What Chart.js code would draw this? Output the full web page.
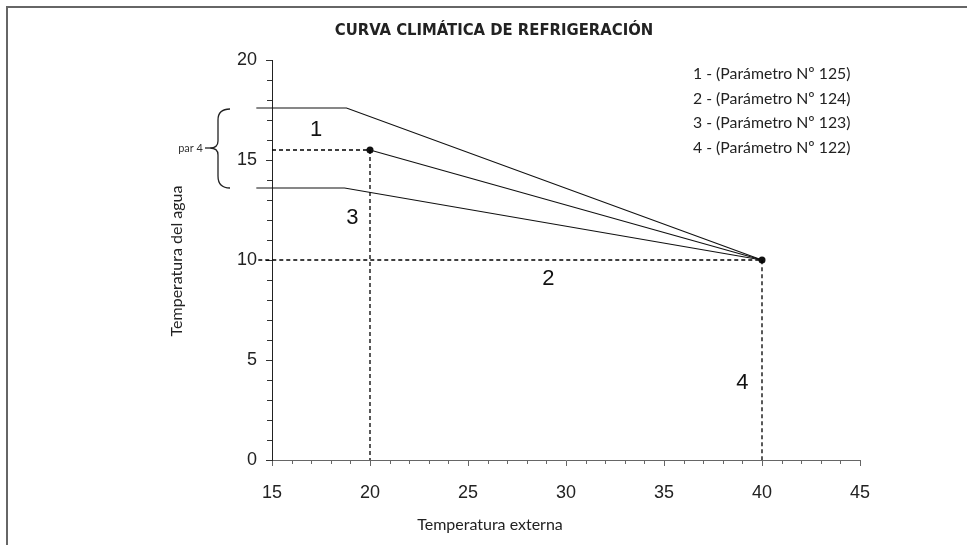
<!DOCTYPE html>
<html>
<head>
<meta charset="utf-8">
<script src="https://cdn.jsdelivr.net/npm/chart.js@4/dist/chart.umd.min.js"></script>
<style>
  html, body { margin: 0; padding: 0; background: #fff; }
  #wrap { width: 967px; height: 545px; position: relative; }
</style>
</head>
<body>
<div id="wrap"><canvas id="chart" width="967" height="545"></canvas></div>
<script>
// Axis ranges and labelled ticks
const xMin = 15, xMax = 45, xStep = 5;
const yMin = 0, yMax = 20, yStep = 5;

// Curve 1 (upper limit)
const curve1X = [14.2, 18.8, 40];
const curve1Y = [17.6, 17.6, 10];
// Curve through the set point (20, 15.5)
const curveMidX = [20, 40];
const curveMidY = [15.5, 10];
// Curve 3 (lower limit)
const curve3X = [14.2, 18.7, 40];
const curve3Y = [13.6, 13.6, 10];
// Reference (dashed) guides
const guideAX = [15, 20, 20];
const guideAY = [15.5, 15.5, 0];
const guideBX = [14.3, 40, 40];
const guideBY = [10, 10, 0];

// Parameter legend
const legendLines = [
  '1 - (Parámetro Nº 125)',
  '2 - (Parámetro Nº 124)',
  '3 - (Parámetro Nº 123)',
  '4 - (Parámetro Nº 122)'
];
// Numbered markers placed in data coordinates
const markerText = ['1', '2', '3', '4'];
const markerX = [17.25, 29.1, 19.1, 39.0];
const markerY = [16.5, 9.05, 12.1, 3.85];
// Brace range (par 4)
const braceTop = 17.6, braceBottom = 13.6;

const pts = (xs, ys) => xs.map((x, i) => ({ x: x, y: ys[i] }));

const INK = '#111';
const SANS = "'Liberation Sans', Arial, sans-serif";
const HUMAN = "Lato, 'Open Sans', sans-serif";

const overlay = {
  id: 'overlay',
  afterDraw(chart) {
    const ctx = chart.ctx;
    const xs = chart.scales.x, ys = chart.scales.y;
    const ca = chart.chartArea;
    ctx.save();

    // minor ticks
    ctx.lineWidth = 1;
    ctx.strokeStyle = '#666';
    ctx.beginPath();
    for (let v = xMin; v <= xMax; v++) {
      if (v % xStep === 0) continue;
      const px = Math.round(xs.getPixelForValue(v)) + 0.5;
      ctx.moveTo(px, ca.bottom);
      ctx.lineTo(px, ca.bottom + 4);
    }
    ctx.stroke();
    ctx.strokeStyle = '#333';
    ctx.beginPath();
    for (let v = yMin; v <= yMax; v++) {
      if (v % yStep === 0) continue;
      const py = Math.round(ys.getPixelForValue(v)) + 0.5;
      ctx.moveTo(ca.left, py);
      ctx.lineTo(ca.left - 5, py);
    }
    ctx.stroke();

    // numbered markers
    ctx.fillStyle = INK;
    ctx.font = '22px ' + SANS;
    ctx.textAlign = 'center';
    ctx.textBaseline = 'middle';
    markerText.forEach((t, i) => {
      ctx.fillText(t, xs.getPixelForValue(markerX[i]), ys.getPixelForValue(markerY[i]));
    });

    // brace for par 4
    const yt = ys.getPixelForValue(braceTop);
    const yb = ys.getPixelForValue(braceBottom);
    const ym = (yt + yb) / 2;
    const xr = 230, xc = 218, xt = 210;
    ctx.strokeStyle = '#222';
    ctx.lineWidth = 1.3;
    ctx.beginPath();
    ctx.moveTo(xr, yt + 1);
    ctx.quadraticCurveTo(xc, yt + 1, xc, yt + 12);
    ctx.lineTo(xc, ym - 7);
    ctx.quadraticCurveTo(xc, ym, xt, ym);
    ctx.quadraticCurveTo(xc, ym, xc, ym + 7);
    ctx.lineTo(xc, yb - 12);
    ctx.quadraticCurveTo(xc, yb, xr, yb);
    ctx.stroke();
    ctx.beginPath();
    ctx.moveTo(xt, ym);
    ctx.lineTo(xt - 5, ym);
    ctx.stroke();
    ctx.fillStyle = '#333';
    ctx.font = '11px ' + HUMAN;
    ctx.textAlign = 'right';
    ctx.fillText('par 4', 203, ym);

    // parameter legend
    ctx.fillStyle = '#222';
    ctx.font = '15.8px ' + HUMAN;
    ctx.textAlign = 'left';
    legendLines.forEach((t, i) => ctx.fillText(t, 693, 74 + i * 24.5));

    // title
    ctx.font = "bold 16.5px 'Liberation Sans Narrow', 'DejaVu Sans Condensed', sans-serif";
    ctx.textAlign = 'center';
    ctx.fillText('CURVA CLIMÁTICA DE REFRIGERACIÓN', 494, 31);

    // axis titles
    ctx.font = '16px ' + HUMAN;
    ctx.fillStyle = '#222';
    ctx.fillText('Temperatura externa', 490, 525);
    ctx.save();
    ctx.translate(177, 261);
    ctx.rotate(-Math.PI / 2);
    ctx.fillText('Temperatura del agua', 0, 0);
    ctx.restore();

    // frame
    ctx.strokeStyle = '#666';
    ctx.lineWidth = 2;
    ctx.beginPath();
    ctx.moveTo(7, 545);
    ctx.lineTo(7, 7);
    ctx.lineTo(967, 7);
    ctx.stroke();

    ctx.restore();
  }
};

const solid = { borderColor: INK, borderWidth: 1.2, pointRadius: 0, showLine: true, clip: false, fill: false };
const dashed = Object.assign({}, solid, { borderColor: '#000', borderDash: [4, 3], borderWidth: 1.3 });

new Chart(document.getElementById('chart'), {
  type: 'scatter',
  data: {
    datasets: [
      Object.assign({ data: pts(curve1X, curve1Y) }, solid),
      Object.assign({ data: pts(curve3X, curve3Y) }, solid),
      Object.assign({ data: pts(guideAX, guideAY) }, dashed),
      Object.assign({ data: pts(guideBX, guideBY) }, dashed),
      Object.assign({ data: pts(curveMidX, curveMidY) }, solid,
        { pointRadius: 3.5, pointBackgroundColor: INK, pointBorderColor: INK, pointBorderWidth: 0 })
    ]
  },
  options: {
    responsive: false,
    animation: false,
    events: [],
    layout: { padding: { left: 0, right: 107, top: 60, bottom: 0 } },
    plugins: { legend: { display: false }, tooltip: { enabled: false }, title: { display: false } },
    scales: {
      x: {
        type: 'linear', min: xMin, max: xMax,
        afterFit: s => { s.height = 85; },
        ticks: { stepSize: xStep, color: '#222', font: { family: SANS, size: 18 }, padding: 16, maxRotation: 0 },
        grid: { drawOnChartArea: false, drawTicks: true, tickLength: 6, color: '#666', lineWidth: 1 },
        border: { display: true, color: '#666', width: 1 }
      },
      y: {
        type: 'linear', min: yMin, max: yMax,
        afterFit: s => { s.width = 272; },
        ticks: { stepSize: yStep, color: '#222', font: { family: SANS, size: 18 }, padding: 9 },
        grid: { drawOnChartArea: false, drawTicks: true, tickLength: 6, color: '#333', lineWidth: 1 },
        border: { display: true, color: '#222', width: 1 }
      }
    }
  },
  plugins: [overlay]
});
</script>
</body>
</html>
